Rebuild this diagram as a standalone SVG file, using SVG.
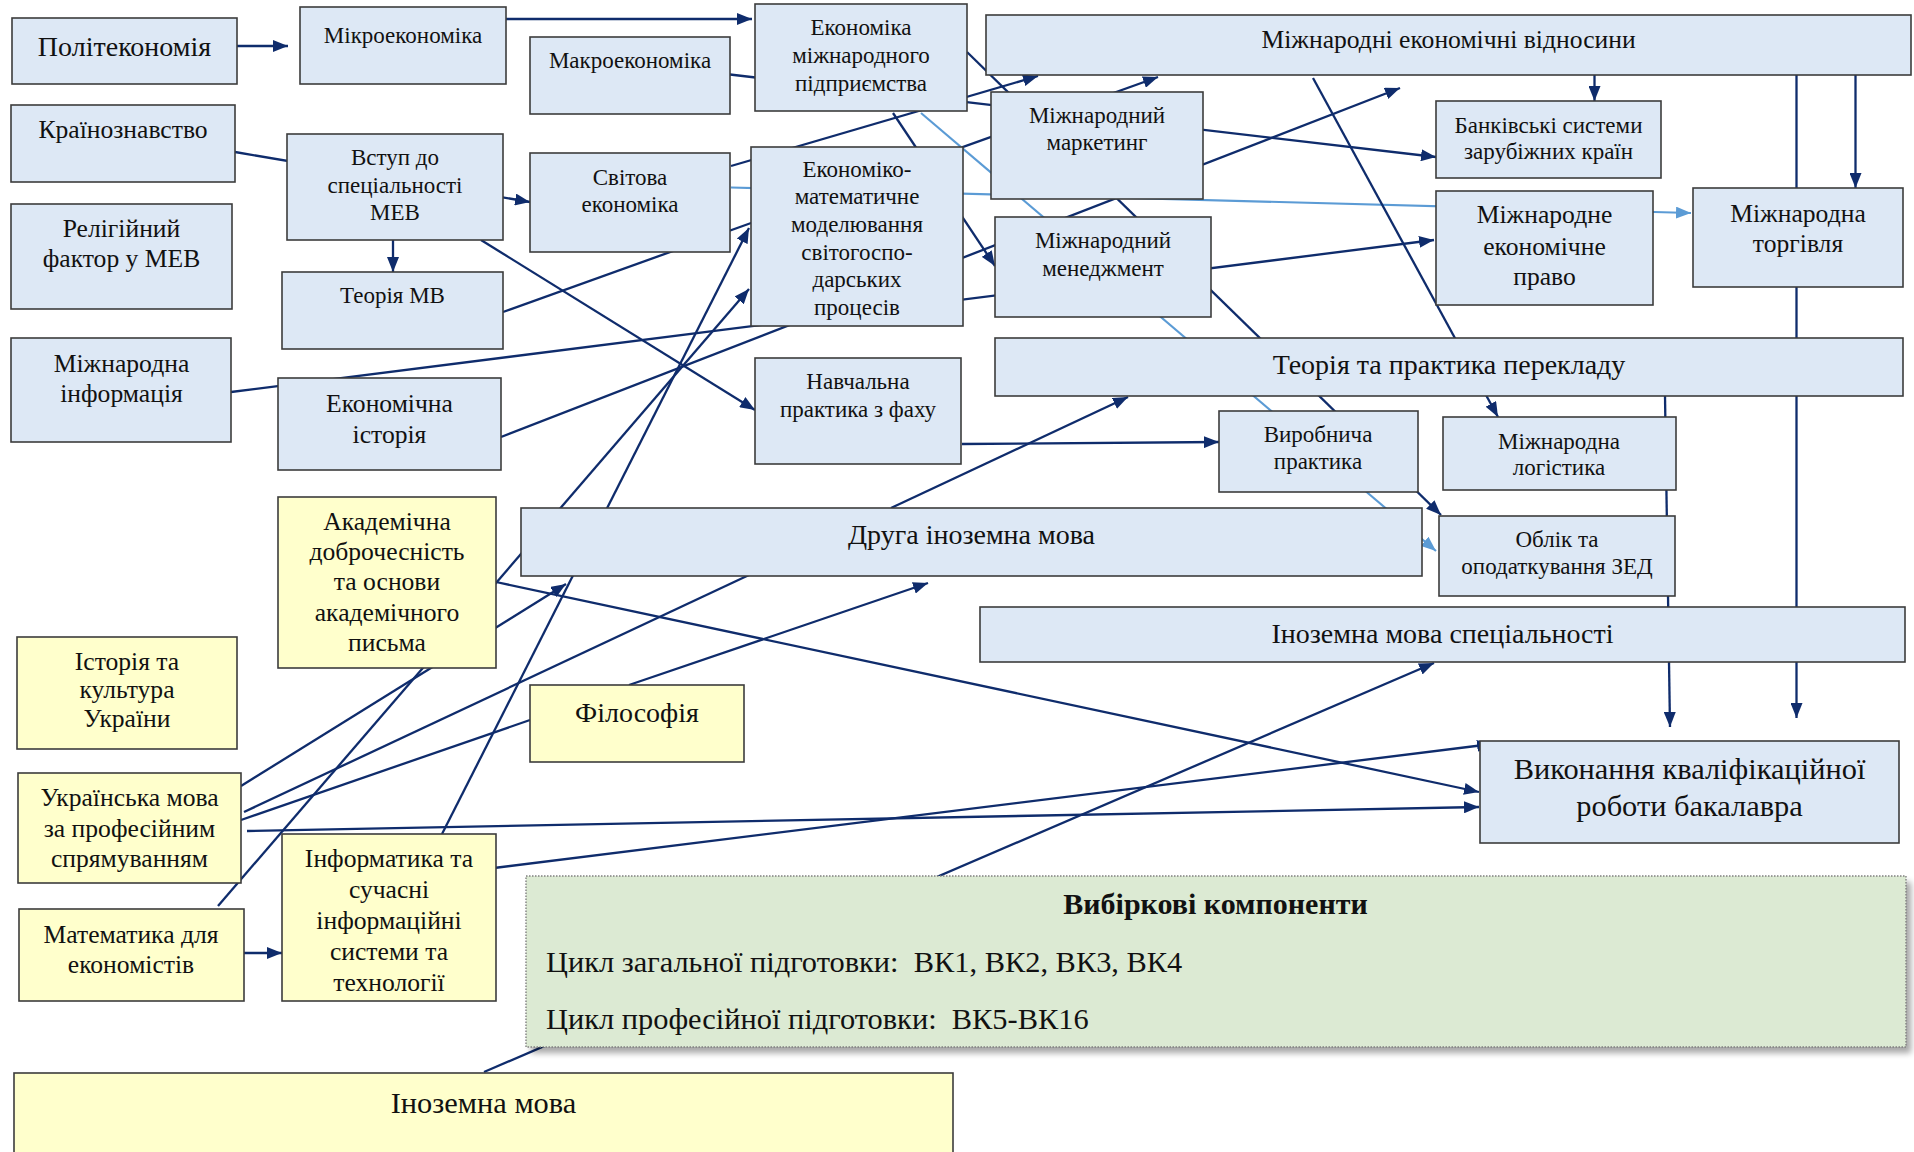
<svg xmlns="http://www.w3.org/2000/svg" width="1914" height="1152" viewBox="0 0 1914 1152">
<defs>
<style>
.b{fill:#DDE8F5;stroke:#3C3C3C;stroke-width:1.6}
.y{fill:#FFFFCC;stroke:#3C3C3C;stroke-width:1.6}
.g{fill:#DCEAD3;stroke:#808080;stroke-width:1.4;stroke-dasharray:1.5 1.5}
text{font-family:"Liberation Serif","Times New Roman",serif;fill:#111;text-anchor:middle}
.s{font-size:23px}
.L{font-size:25.6px}
.X{font-size:28px}
.H{font-size:30.4px}
.c{fill:none;stroke:#0F2C6C;stroke-width:2.3;marker-end:url(#a)}
.n{fill:none;stroke:#0F2C6C;stroke-width:2.3}
.lb{fill:none;stroke:#5B9BD5;stroke-width:2.1;marker-end:url(#al)}
</style>
<marker id="a" markerUnits="userSpaceOnUse" viewBox="0 0 15 12" refX="15" refY="6" markerWidth="15" markerHeight="12" orient="auto"><path d="M0,0L15,6L0,12z" fill="#0F2C6C"/></marker>
<marker id="al" markerUnits="userSpaceOnUse" viewBox="0 0 15 12" refX="15" refY="6" markerWidth="15" markerHeight="12" orient="auto"><path d="M0,0L15,6L0,12z" fill="#5B9BD5"/></marker>
<filter id="sh" x="-5%" y="-5%" width="110%" height="120%"><feGaussianBlur stdDeviation="3"/></filter>
</defs>
<rect width="1914" height="1152" fill="#fff"/>
<g id="connectors">
<path class="c" d="M237,46L288,46"/>
<path class="c" d="M506,19L752,19"/>
<path class="c" d="M235,152L530,202"/>
<path class="c" d="M393,240L393,272"/>
<path class="c" d="M481,240L755,410"/>
<path class="c" d="M730,74.5L1436,157"/>
<path class="c" d="M731,166L1038,76"/>
<path class="c" d="M503,312L1158,77"/>
<path class="c" d="M231,392L1434,240"/>
<path class="c" d="M501,437L1400,88"/>
<path class="c" d="M218,906L749,289"/>
<path class="c" d="M442,834L749,228"/>
<path class="c" d="M967,52L1441,515"/>
<path class="c" d="M893,113L995,266"/>
<path class="lb" d="M921,113L1436,551"/>
<path class="lb" d="M731,187.5L1691,213"/>
<path class="c" d="M1594.5,75L1594.5,101"/>
<path class="c" d="M1855.5,75L1855.5,188"/>
<path class="c" d="M1796.5,75L1796.5,718"/>
<path class="c" d="M1665,396L1670,727"/>
<path class="c" d="M1313,78L1498,417"/>
<path class="c" d="M962,444L1219,442"/>
<path class="c" d="M891,508L1128,397"/>
<path class="c" d="M241,786L566,584"/>
<path class="n" d="M244,812L749,575"/>
<path class="n" d="M241,820L530,720"/>
<path class="c" d="M247,831L1479,807"/>
<path class="c" d="M629,685L928,583"/>
<path class="c" d="M496,582L1479,792"/>
<path class="c" d="M494,868L1492,744"/>
<path class="c" d="M244,953L282,953"/>
<path class="c" d="M484,1072L1434,663"/>
</g>
<g id="polit"><rect class="b" x="12" y="18" width="225" height="66"/><text class="X" x="124.5" y="56">Політекономія</text></g>
<g id="micro"><rect class="b" x="300" y="7" width="206" height="77"/><text class="s" x="403" y="43">Мікроекономіка</text></g>
<g id="macro"><rect class="b" x="530" y="37" width="200" height="77"/><text class="s" x="630" y="68">Макроекономіка</text></g>
<g id="country"><rect class="b" x="11" y="105" width="224" height="77"/><text class="L" x="123" y="138">Країнознавство</text></g>
<g id="vstup"><rect class="b" x="287" y="134" width="216" height="106"/><text class="s" x="395" y="165">Вступ до</text><text class="s" x="395" y="193">спеціальності</text><text class="s" x="395" y="220">МЕВ</text></g>
<g id="svit"><rect class="b" x="530" y="153" width="200" height="99"/><text class="s" x="630" y="185">Світова</text><text class="s" x="630" y="212">економіка</text></g>
<g id="relig"><rect class="b" x="11" y="204" width="221" height="105"/><text class="L" x="121.5" y="237">Релігійний</text><text class="L" x="121.5" y="267">фактор у МЕВ</text></g>
<g id="teormv"><rect class="b" x="282" y="272" width="221" height="77"/><text class="s" x="392.5" y="303">Теорія МВ</text></g>
<g id="intinfo"><rect class="b" x="11" y="338" width="220" height="104"/><text class="L" x="121.5" y="372">Міжнародна</text><text class="L" x="121.5" y="402">інформація</text></g>
<g id="echist"><rect class="b" x="278" y="378" width="223" height="92"/><text class="L" x="389.5" y="412">Економічна</text><text class="L" x="389.5" y="443">історія</text></g>
<g id="acad"><rect class="y" x="278" y="497" width="218" height="171"/><text class="L" x="387" y="530">Академічна</text><text class="L" x="387" y="560">доброчесність</text><text class="L" x="387" y="590">та основи</text><text class="L" x="387" y="621">академічного</text><text class="L" x="387" y="651">письма</text></g>
<g id="history"><rect class="y" x="17" y="637" width="220" height="112"/><text class="L" x="127" y="670">Історія та</text><text class="L" x="127" y="698">культура</text><text class="L" x="127" y="727">України</text></g>
<g id="ukr"><rect class="y" x="18" y="773" width="223" height="110"/><text class="L" x="129.5" y="806">Українська мова</text><text class="L" x="129.5" y="837">за професійним</text><text class="L" x="129.5" y="867">спрямуванням</text></g>
<g id="math"><rect class="y" x="19" y="909" width="225" height="92"/><text class="L" x="131" y="943">Математика для</text><text class="L" x="131" y="973">економістів</text></g>
<g id="inform"><rect class="y" x="282" y="834" width="214" height="167"/><text class="L" x="389" y="867">Інформатика та</text><text class="L" x="389" y="898">сучасні</text><text class="L" x="389" y="929">інформаційні</text><text class="L" x="389" y="960">системи та</text><text class="L" x="389" y="991">технології</text></g>
<g id="inozem"><rect class="y" x="14" y="1073" width="939" height="100"/><text class="H" x="483.5" y="1113">Іноземна мова</text></g>
<g id="philos"><rect class="y" x="530" y="685" width="214" height="77"/><text class="X" x="637" y="722">Філософія</text></g>
<g id="vybir"><rect x="531" y="882" width="1380" height="171" fill="#000" opacity="0.35" filter="url(#sh)"/><rect class="g" x="526" y="876" width="1380" height="171"/><text x="1215.5" y="914" font-size="30" font-weight="bold">Вибіркові компоненти</text><text class="H" x="546" y="972" style="text-anchor:start" xml:space="preserve">Цикл загальної підготовки:  ВК1, ВК2, ВК3, ВК4</text><text class="H" x="546" y="1029" style="text-anchor:start" xml:space="preserve">Цикл професійної підготовки:  ВК5-ВК16</text></g>
<g id="vykon"><rect class="b" x="1480" y="741" width="419" height="102"/><text class="H" x="1689.5" y="779">Виконання кваліфікаційної</text><text class="H" x="1689.5" y="816">роботи бакалавра</text></g>
<g id="emp"><rect class="b" x="755" y="4" width="212" height="107"/><text class="s" x="861" y="35">Економіка</text><text class="s" x="861" y="63">міжнародного</text><text class="s" x="861" y="91">підприємства</text></g>
<g id="meb"><rect class="b" x="986" y="15" width="925" height="60"/><text class="L" x="1448.5" y="48">Міжнародні економічні відносини</text></g>
<g id="ekmat"><rect class="b" x="751" y="147" width="212" height="179"/><text class="s" x="857" y="177">Економіко-</text><text class="s" x="857" y="204">математичне</text><text class="s" x="857" y="232">моделювання</text><text class="s" x="857" y="260">світогоспо-</text><text class="s" x="857" y="287">дарських</text><text class="s" x="857" y="315">процесів</text></g>
<g id="market"><rect class="b" x="991" y="92" width="212" height="107"/><text class="s" x="1097" y="123">Міжнародний</text><text class="s" x="1097" y="150">маркетинг</text></g>
<g id="manag"><rect class="b" x="995" y="217" width="216" height="100"/><text class="s" x="1103" y="248">Міжнародний</text><text class="s" x="1103" y="276">менеджмент</text></g>
<g id="bank"><rect class="b" x="1436" y="101" width="225" height="77"/><text class="s" x="1548.5" y="133">Банківські системи</text><text class="s" x="1548.5" y="159">зарубіжних країн</text></g>
<g id="mep"><rect class="b" x="1436" y="191" width="217" height="114"/><text class="L" x="1544.5" y="223">Міжнародне</text><text class="L" x="1544.5" y="255">економічне</text><text class="L" x="1544.5" y="285">право</text></g>
<g id="trade"><rect class="b" x="1693" y="188" width="210" height="99"/><text class="L" x="1798" y="222">Міжнародна</text><text class="L" x="1798" y="252">торгівля</text></g>
<g id="navch"><rect class="b" x="755" y="358" width="206" height="106"/><text class="s" x="858" y="389">Навчальна</text><text class="s" x="858" y="417">практика з фаху</text></g>
<g id="transl"><rect class="b" x="995" y="338" width="908" height="58"/><text class="X" x="1449" y="374">Теорія та практика перекладу</text></g>
<g id="vyrob"><rect class="b" x="1219" y="411" width="199" height="81"/><text class="s" x="1318" y="442">Виробнича</text><text class="s" x="1318" y="469">практика</text></g>
<g id="druga"><rect class="b" x="521" y="508" width="901" height="68"/><text class="X" x="971.5" y="544">Друга іноземна мова</text></g>
<g id="inspec"><rect class="b" x="980" y="607" width="925" height="55"/><text class="X" x="1442.5" y="643">Іноземна мова спеціальності</text></g>
<g id="logist"><rect class="b" x="1443" y="417" width="233" height="73"/><text class="s" x="1559" y="449">Міжнародна</text><text class="s" x="1559" y="475">логістика</text></g>
<g id="oblik"><rect class="b" x="1439" y="516" width="236" height="80"/><text class="s" x="1557" y="547">Облік та</text><text class="s" x="1557" y="574">оподаткування ЗЕД</text></g>
</svg>
